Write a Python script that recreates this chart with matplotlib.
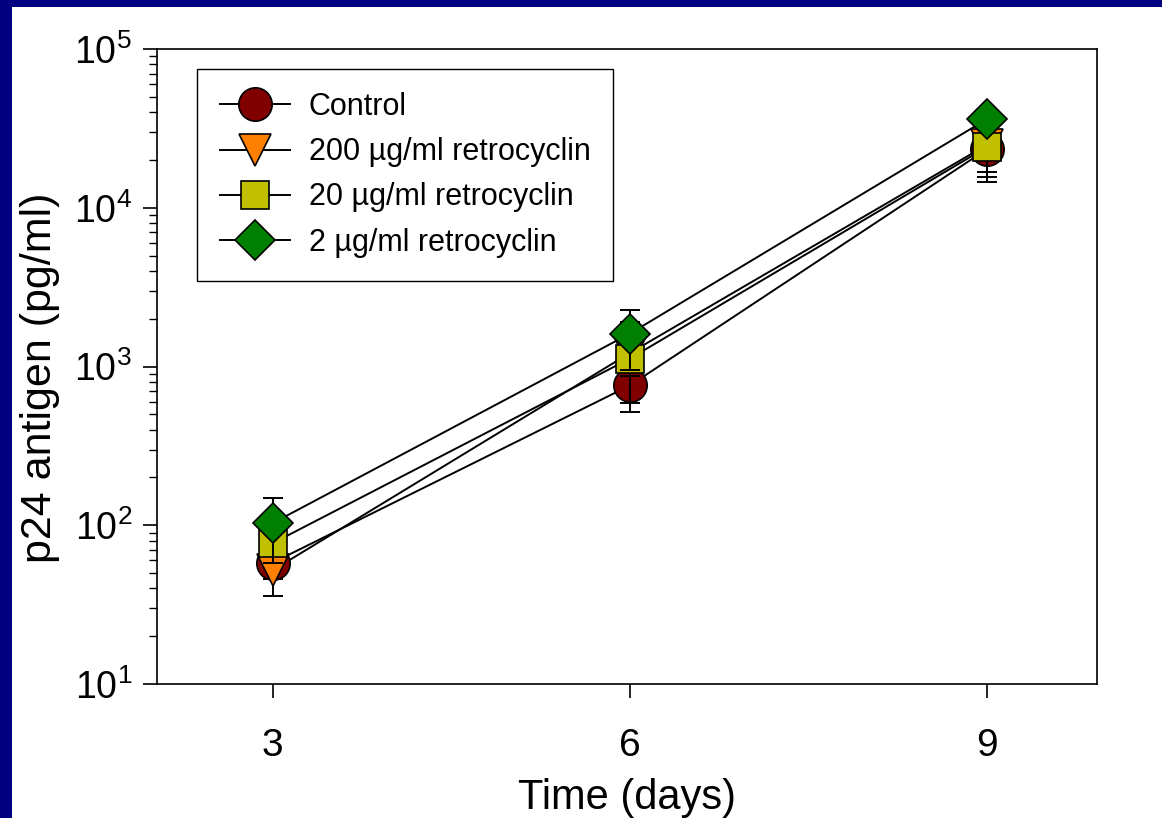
import matplotlib
matplotlib.use("Agg")
import matplotlib.pyplot as plt
from matplotlib.lines import Line2D
from matplotlib.patches import Rectangle
from matplotlib.ticker import LogLocator, NullFormatter

plt.rcParams["font.family"] = ["Liberation Sans", "DejaVu Sans"]
plt.rcParams["mathtext.default"] = "regular"

# data (p24 antigen, pg/ml), mean and SD per day
days = [3, 6, 9]
labels = ["Control", "200 µg/ml retrocyclin", "20 µg/ml retrocyclin",
          "2 µg/ml retrocyclin"]
control = [58, 760, 23500]
control_sd = [12, 175, 6700]
rc200 = [52, 1217, 25000]
rc200_sd = [16, 703, 10400]
rc20 = [77, 1122, 24200]
rc20_sd = [10, 252, 8500]
rc2 = [103, 1612, 36300]
rc2_sd = [45, 668, 5000]

series = [control, rc200, rc20, rc2]
errors = [control_sd, rc200_sd, rc20_sd, rc2_sd]

MARKERS = ["o", "v", "s", "D"]
SIZES = [24, 22.5, 20.5, 20]
COLORS = ["#800000", "#FF8000", "#C0C000", "#008000"]

fig = plt.figure(figsize=(11.62, 8.18), dpi=100, facecolor="#000080")
# white slide area, navy strip left and top
fig.patches.append(Rectangle((12 / 1162, 0), 1, (818 - 7) / 818,
                             transform=fig.transFigure, facecolor="white",
                             edgecolor="none", zorder=-5))
ax = fig.add_axes([157 / 1162, 1 - 684 / 818, 940 / 1162, 635 / 818])
ax.set_facecolor("white")

for i, (vals, sd) in enumerate(zip(series, errors)):
    ax.plot(days, vals, color="black", lw=1.4, zorder=2)
    ax.errorbar(days, vals, yerr=sd, fmt="none", ecolor="black",
                elinewidth=1.4, capsize=7, capthick=1.4, zorder=2.5 + 2 * i)
    ax.plot(days, vals, ls="none", marker=MARKERS[i], ms=SIZES[i],
            mfc=COLORS[i], mec="black", mew=1.2, zorder=3 + 2 * i)

ax.set_yscale("log")
ax.set_ylim(10, 1e5)
ax.set_xlim(2.03, 9.92)
ax.set_xticks(days)
ax.yaxis.set_minor_locator(LogLocator(base=10, subs=range(2, 10)))
ax.yaxis.set_minor_formatter(NullFormatter())

for s in ax.spines.values():
    s.set_linewidth(1.2)
ax.tick_params(axis="both", which="major", direction="out", length=10,
               width=1.2, labelsize=27, top=False, right=False)
ax.tick_params(axis="x", labelsize=28, pad=22)
ax.tick_params(axis="y", which="minor", direction="out", length=6,
               width=1.0, right=False)
ax.tick_params(axis="y", pad=8)

ax.set_xlabel("Time (days)", fontsize=30, labelpad=10)
ax.set_ylabel("p24 antigen (pg/ml)", fontsize=31)
ax.yaxis.set_label_coords(-0.103, 0.482)

handles = [Line2D([], [], color="black", lw=1.4, marker=MARKERS[i],
                  ms=SIZES[i], mfc=COLORS[i], mec="black", mew=1.2)
           for i in range(4)]
leg = ax.legend(handles, labels, loc="upper left",
                bbox_to_anchor=(0.0426, 0.9685), borderaxespad=0,
                fancybox=False, edgecolor="black", framealpha=1,
                fontsize=22, handlelength=2.3, handletextpad=0.6,
                labelspacing=0.5, borderpad=0.75)
leg.get_frame().set_linewidth(1.0)

fig.savefig("out.png", dpi=100, facecolor=fig.get_facecolor())
